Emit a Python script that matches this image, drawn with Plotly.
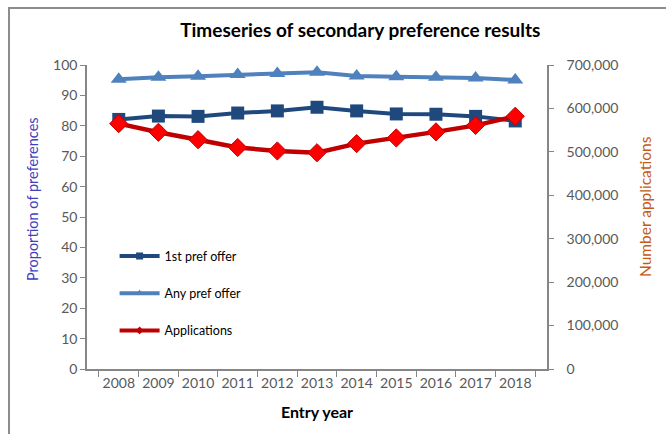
import plotly.graph_objects as go

years = ["2008", "2009", "2010", "2011", "2012", "2013", "2014", "2015", "2016", "2017", "2018"]
first_pref = [82.1, 83.2, 83.1, 84.2, 84.9, 86.1, 84.9, 83.9, 83.8, 83.1, 81.6]
any_pref = [95.3, 96.0, 96.3, 96.9, 97.2, 97.6, 96.4, 96.1, 96.0, 95.7, 95.1]
applications = [565000, 545000, 528000, 510000, 502000, 498000, 519000, 532000, 546000, 561000, 582000]

left_ticks = list(range(0, 101, 10))
right_ticks = list(range(0, 700001, 100000))
right_labels = ["0" if v == 0 else f"{v:,}" for v in right_ticks]

FONT = "Lato, 'Open Sans', sans-serif"
AX = "#868686"
TXT = "#595959"
C1, C2, C3, C3M = "#1F497D", "#4F81BD", "#C00000", "#FF0000"

fig = go.Figure()
fig.add_trace(go.Scatter(
    x=years, y=first_pref, name="1st pref offer", mode="lines+markers", showlegend=False,
    line=dict(color=C1, width=4),
    marker=dict(symbol="square", size=13, color=C1)))
fig.add_trace(go.Scatter(
    x=years, y=any_pref, name="Any pref offer", mode="lines+markers", showlegend=False,
    line=dict(color=C2, width=4),
    marker=dict(symbol="triangle-up", size=14, color=C2)))
fig.add_trace(go.Scatter(
    x=years, y=applications, name="Applications", mode="lines+markers", yaxis="y2", showlegend=False,
    line=dict(color=C3, width=4.5),
    marker=dict(symbol="diamond", size=14, color=C3M, line=dict(color=C3, width=1))))

# legend entries (small markers, like the original legend keys)
fig.add_trace(go.Scatter(x=[None], y=[None], name="1st pref offer", mode="lines+markers",
                         line=dict(color=C1, width=4), marker=dict(symbol="square", size=7, color=C1),
                         legendgroup="a"))
fig.add_trace(go.Scatter(x=[None], y=[None], name="Any pref offer", mode="lines+markers",
                         line=dict(color=C2, width=4), marker=dict(symbol="triangle-up", size=7, color=C2),
                         legendgroup="b"))
fig.add_trace(go.Scatter(x=[None], y=[None], name="Applications", mode="lines+markers",
                         line=dict(color=C3, width=4), marker=dict(symbol="diamond", size=6, color=C3),
                         legendgroup="c"))

fig.update_layout(
    width=666, height=434,
    margin=dict(l=87, r=119, t=65, b=65, autoexpand=False),
    paper_bgcolor="white", plot_bgcolor="white",
    font=dict(family=FONT, size=14, color=TXT),
    title=dict(text="<b>Timeseries of secondary preference results</b>",
               x=0.541, xanchor="center", y=0.931, yanchor="middle",
               font=dict(size=19, color="black", family=FONT)),
    xaxis=dict(type="category", showgrid=False, showline=True, linecolor=AX, linewidth=1.5,
               ticks="outside", tickson="boundaries", ticklen=6, tickcolor=AX, automargin=False,
               tickangle=0, tickfont=dict(size=14, color=TXT),
               title=dict(text="<b>Entry year</b>", font=dict(size=16, color="black"), standoff=17)),
    yaxis=dict(range=[0, 100], tickvals=left_ticks, showgrid=False, zeroline=False, automargin=False,
               showline=True, linecolor=AX, linewidth=1.5, ticks="outside", ticklen=5, tickcolor=AX,
               tickfont=dict(size=14, color=TXT)),
    yaxis2=dict(range=[0, 700000], tickvals=right_ticks, ticktext=right_labels, overlaying="y", side="right",
                showgrid=False, zeroline=False, showline=True, linecolor=AX, linewidth=1.5, automargin=False,
                ticks="outside", ticklen=5, tickcolor=AX, ticklabelstandoff=10,
                tickfont=dict(size=14, color=TXT)),
    legend=dict(x=0.06, y=0.42, xanchor="left", yanchor="top", bgcolor="rgba(0,0,0,0)",
                tracegroupgap=18, font=dict(size=12.5, color="black"), itemwidth=40),
    showlegend=True,
)

fig.add_annotation(text="Proportion of preferences", xref="paper", yref="paper",
                   x=(32 - 87) / 460, y=(369 - 199) / 304, textangle=-90, showarrow=False,
                   xanchor="center", yanchor="middle",
                   font=dict(size=14.5, color="#3F3FBF", family=FONT))
fig.add_annotation(text="Number applications", xref="paper", yref="paper",
                   x=(645 - 87) / 460, y=(369 - 207) / 304, textangle=-90, showarrow=False,
                   xanchor="center", yanchor="middle",
                   font=dict(size=15.5, color="#C55A11", family=FONT))

fig.add_shape(type="rect", xref="paper", yref="paper", x0=(9 - 87) / 460, x1=1.4, y0=-0.4, y1=(369 - 8) / 304,
              line=dict(color="#8C8C8C", width=2), fillcolor="rgba(0,0,0,0)", layer="below")

fig.write_html("out.html", config={"displayModeBar": False},
               post_script="document.body.style.margin='0';document.body.style.overflow='hidden';")
